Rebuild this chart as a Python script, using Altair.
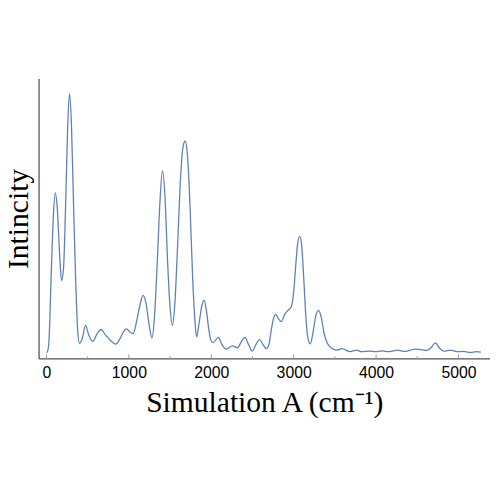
import altair as alt
import pandas as pd

wavenumber = [0, 8, 28, 60, 84, 108, 132, 160, 183, 207, 231, 255, 279, 303, 327, 355, 379, 400,
              434, 475, 514, 562, 614, 662, 714, 774, 841, 893, 933, 973, 1013, 1053, 1092, 1133, 1172,
              1208, 1244, 1280, 1312, 1344, 1376, 1408, 1439, 1471, 1499, 1527, 1559, 1591, 1623, 1655,
              1683, 1711, 1743, 1775, 1803, 1822, 1854, 1886, 1914, 1941, 1970, 1995, 2022, 2085, 2133,
              2181, 2257, 2317, 2368, 2408, 2456, 2496, 2548, 2587, 2628, 2667, 2700, 2730, 2755, 2784,
              2815, 2851, 2891, 2931, 2970, 3002, 3026, 3050, 3074, 3098, 3122, 3146, 3170, 3202, 3233,
              3266, 3301, 3334, 3370, 3409, 3461, 3525, 3585, 3684, 3764, 3824, 3923, 3991, 4071, 4163,
              4262, 4350, 4482, 4613, 4669, 4721, 4773, 4821, 4909, 4981, 5060, 5140, 5220, 5272]
intensity = [0.0, 0.001, 0.033, 0.324, 0.527, 0.615, 0.552, 0.375, 0.277, 0.324, 0.552, 0.843, 0.998,
             0.881, 0.590, 0.273, 0.085, 0.035,
             0.053, 0.104, 0.066, 0.043, 0.072, 0.089, 0.068, 0.047, 0.032, 0.053, 0.079, 0.091, 0.079,
             0.072, 0.117, 0.180, 0.220,
             0.190, 0.110, 0.056, 0.142, 0.344, 0.572, 0.701, 0.597, 0.344, 0.180, 0.104, 0.193, 0.408,
             0.648, 0.787,
             0.815, 0.762, 0.559, 0.281, 0.117, 0.060, 0.117, 0.180, 0.202, 0.161, 0.090, 0.048, 0.038,
             0.058, 0.028,
             0.013, 0.025, 0.018, 0.043, 0.058, 0.028, 0.005, 0.034, 0.049, 0.030, 0.015, 0.030, 0.090,
             0.130, 0.147,
             0.130, 0.119, 0.147, 0.162, 0.175, 0.238, 0.339, 0.422, 0.447, 0.409, 0.289, 0.149, 0.061,
             0.033, 0.073,
             0.137, 0.162, 0.137, 0.073, 0.035, 0.016, 0.009, 0.015, 0.003, 0.009, 0.003, 0.005, 0.003,
             0.006, 0.003,
             0.009, 0.004, 0.013, 0.008, 0.019, 0.037, 0.015, 0.005, 0.009, 0.003, 0.004, 0.0, 0.003,
             0.001]

major_ticks = [0, 1000, 2000, 3000, 4000, 5000]
minor_ticks = [500, 1500, 2500, 3500, 4500]

spec_df = pd.DataFrame({"x": wavenumber, "y": intensity})
major_df = pd.DataFrame({"x": major_ticks})
minor_df = pd.DataFrame({"x": minor_ticks})

W, H = 458, 284
xscale = alt.Scale(domain=[-96, 5383], nice=False, zero=False)
yscale = alt.Scale(domain=[-0.023, 1.056], nice=False, zero=False)

line = alt.Chart(spec_df).mark_line(
    color="#5e81b5", strokeWidth=1.3, interpolate="monotone"
).encode(
    x=alt.X("x:Q", scale=xscale,
            axis=alt.Axis(title="Simulation A (cm⁻¹)", values=major_ticks, format="d",
                          ticks=False, grid=False, labelFont="Liberation Sans",
                          labelFontSize=16, labelColor="#000000", labelPadding=6,
                          titleFont="Liberation Serif", titleFontSize=30,
                          titleFontWeight="normal", titleColor="#000000", titlePadding=8,
                          domainColor="#222222", domainWidth=1)),
    y=alt.Y("y:Q", scale=yscale,
            axis=alt.Axis(title="Intincity", labels=False, ticks=False, grid=False,
                          titleFont="Liberation Serif", titleFontSize=30,
                          titleFontWeight="normal", titleColor="#000000", titlePadding=5,
                          domainColor="#222222", domainWidth=1)),
)

major = alt.Chart(major_df).mark_rule(color="#999999", strokeWidth=1).encode(
    x=alt.X("x:Q", scale=xscale),
    y=alt.value(H),
    y2=alt.value(H - 4),
)
minor = alt.Chart(minor_df).mark_rule(color="#aaaaaa", strokeWidth=1).encode(
    x=alt.X("x:Q", scale=xscale),
    y=alt.value(H),
    y2=alt.value(H - 2.5),
)

chart = alt.layer(line, major, minor).properties(
    width=W, height=H,
    autosize=alt.AutoSizeParams(type="none"),
    padding={"left": 31, "top": 68, "right": 0, "bottom": 130},
).configure(background="#ffffff").configure_view(stroke=None)

chart.save("out.html", embed_options={"renderer": "svg", "actions": False})
